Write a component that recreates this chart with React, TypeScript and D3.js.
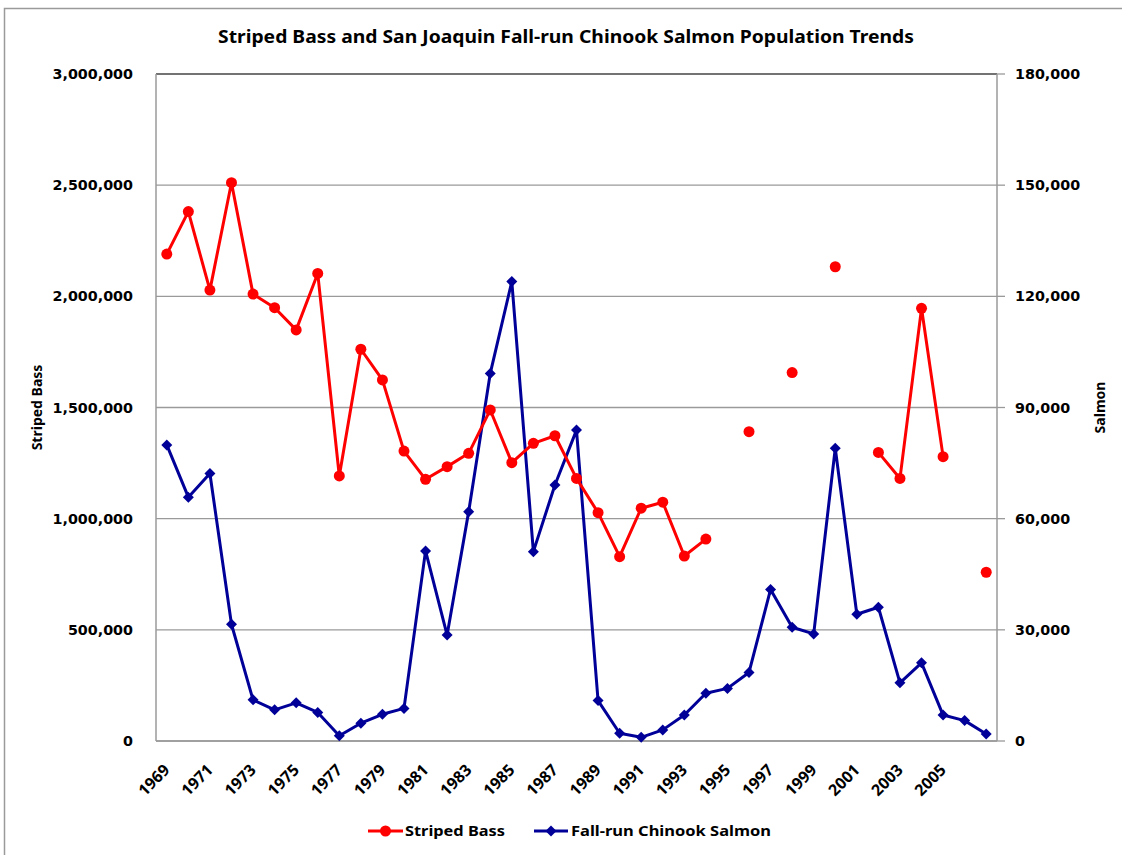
import React from "react";
import * as d3 from "d3";

const years = [
  "1969","1970","1971","1972","1973","1974","1975","1976","1977","1978",
  "1979","1980","1981","1982","1983","1984","1985","1986","1987","1988",
  "1989","1990","1991","1992","1993","1994","1995","1996","1997","1998",
  "1999","2000","2001","2002","2003","2004","2005","2006","2007",
];

const stripedBass: (number | null)[] = [
  2190000, 2381000, 2028000, 2511000, 2010000, 1949000, 1849000, 2103000, 1192000, 1762000,
  1624000, 1304000, 1177000, 1234000, 1294000, 1489000, 1252000, 1339000, 1373000, 1181000,
  1027000, 829000, 1047000, 1074000, 832000, 908000, null, 1391000, null, 1657000,
  null, 2133000, null, 1298000, 1181000, 1946000, 1279000, null, 759000,
];

const salmon: number[] = [
  79900, 65800, 72200, 31500, 11100, 8400, 10300, 7700, 1400, 4800,
  7200, 8800, 51300, 28600, 61900, 99200, 124000, 51100, 69100, 83900,
  10900, 2100, 1000, 3000, 7000, 12900, 14200, 18500, 40900, 30700,
  28900, 79000, 34200, 36100, 15700, 21100, 7000, 5500, 1900,
];

const xTickLabels = [
  "1969","1971","1973","1975","1977","1979","1981","1983","1985","1987",
  "1989","1991","1993","1995","1997","1999","2001","2003","2005",
];

const leftTicks = [0, 500000, 1000000, 1500000, 2000000, 2500000, 3000000];
const rightTicks = [0, 30000, 60000, 90000, 120000, 150000, 180000];

const title = "Striped Bass and San Joaquin Fall-run Chinook Salmon Population Trends";
const leftTitle = "Striped Bass";
const rightTitle = "Salmon";
const legendBass = "Striped Bass";
const legendSalmon = "Fall-run Chinook Salmon";

const RED = "#FF0000";
const BLUE = "#000099";
const LABEL_FONT = "'DejaVu Sans', Verdana, sans-serif";
const NARROW_FONT = "'Noto Sans', 'Open Sans', sans-serif";

export default function App() {
  const W = 1122, H = 855;
  const left = 156, right = 997, top = 74, bottom = 741;

  const x = d3.scaleBand<string>().domain(years).range([left, right]).padding(0);
  const cx = (y: string) => (x(y) as number) + x.bandwidth() / 2;
  const yL = d3.scaleLinear().domain([0, 3000000]).range([bottom, top]);
  const yR = d3.scaleLinear().domain([0, 180000]).range([bottom, top]);
  const fmt = d3.format(",");

  const bassLine = d3
    .line<number | null>()
    .defined((d) => d !== null)
    .x((_, i) => cx(years[i]))
    .y((d) => yL(d as number));
  const salmonLine = d3
    .line<number>()
    .x((_, i) => cx(years[i]))
    .y((d) => yR(d));

  const diamond = (px: number, py: number, r: number) =>
    `M${px},${py - r}L${px + r},${py}L${px},${py + r}L${px - r},${py}Z`;

  return (
    <svg width={W} height={H} style={{ position: "absolute", left: 0, top: 0 }}>
      <rect x={0} y={0} width={W} height={H} fill="#fff" />
      <rect x={4.5} y={8.5} width={W + 10} height={H + 10} fill="#fff" stroke="#9a9a9a" strokeWidth={1.5} />

      <text x={566} y={43} textAnchor="middle" fontFamily={NARROW_FONT} fontWeight={700} fontSize={18.5}
        textLength={696} lengthAdjust="spacingAndGlyphs" fill="#000">{title}</text>

      {/* gridlines */}
      {leftTicks.map((t) => (
        <line key={"g" + t} x1={left} x2={right} y1={yL(t)} y2={yL(t)}
          stroke={t === 3000000 ? "#444" : "#9a9a9a"} strokeWidth={1.3} />
      ))}
      {/* axes */}
      <line x1={left} x2={left} y1={top} y2={bottom} stroke="#9a9a9a" strokeWidth={1.5} />
      <line x1={right} x2={right} y1={top} y2={bottom} stroke="#9a9a9a" strokeWidth={1.5} />
      <line x1={left} x2={right} y1={bottom} y2={bottom} stroke="#9a9a9a" strokeWidth={1.5} />
      {rightTicks.map((t) => (
        <line key={"rt" + t} x1={right} x2={right + 8} y1={yR(t)} y2={yR(t)} stroke="#9a9a9a" strokeWidth={1.3} />
      ))}

      {/* left tick labels */}
      {leftTicks.map((t) => (
        <text key={"lt" + t} x={133} y={yL(t) + 5} textAnchor="end" fontFamily={LABEL_FONT}
          fontWeight={700} fontSize={14.3} fill="#000">{fmt(t)}</text>
      ))}
      {/* right tick labels */}
      {rightTicks.map((t) => (
        <text key={"rl" + t} x={1015} y={yR(t) + 5} textAnchor="start" fontFamily={LABEL_FONT}
          fontWeight={700} fontSize={14.3} fill="#000">{fmt(t)}</text>
      ))}

      {/* x labels */}
      {xTickLabels.map((l) => {
        const px = cx(l) + 4;
        const py = 771;
        return (
          <text key={"x" + l} x={px} y={py} textAnchor="end" fontFamily={NARROW_FONT} fontWeight={700}
            fontSize={16} fill="#000" transform={`rotate(-45 ${px} ${py})`}>{l}</text>
        );
      })}

      {/* axis titles */}
      <text x={0} y={0} transform={`translate(42 ${(top + bottom) / 2}) rotate(-90)`} textAnchor="middle"
        fontFamily={NARROW_FONT} fontWeight={700} fontSize={14} fill="#000">{leftTitle}</text>
      <text x={0} y={0} transform={`translate(1105 ${(top + bottom) / 2}) rotate(-90)`} textAnchor="middle"
        fontFamily={NARROW_FONT} fontWeight={700} fontSize={14} fill="#000">{rightTitle}</text>

      {/* salmon series */}
      <path d={salmonLine(salmon) || ""} fill="none" stroke={BLUE} strokeWidth={3} strokeLinejoin="round" />
      {salmon.map((v, i) => (
        <path key={"sm" + i} d={diamond(cx(years[i]), yR(v), 5.5)} fill={BLUE} />
      ))}

      {/* striped bass series */}
      <path d={bassLine(stripedBass) || ""} fill="none" stroke={RED} strokeWidth={3} strokeLinejoin="round" />
      {stripedBass.map((v, i) =>
        v === null ? null : <circle key={"bm" + i} cx={cx(years[i])} cy={yL(v)} r={5.5} fill={RED} />
      )}

      {/* legend */}
      <line x1={368} x2={403} y1={831} y2={831} stroke={RED} strokeWidth={3} />
      <circle cx={385.5} cy={831} r={5.5} fill={RED} />
      <text x={405} y={836} fontFamily={NARROW_FONT} fontWeight={700} fontSize={14} fill="#000"
        textLength={100} lengthAdjust="spacingAndGlyphs">{legendBass}</text>
      <line x1={534} x2={568} y1={831} y2={831} stroke={BLUE} strokeWidth={3} />
      <path d={diamond(551, 831, 5.5)} fill={BLUE} />
      <text x={571} y={836} fontFamily={NARROW_FONT} fontWeight={700} fontSize={14} fill="#000"
        textLength={200} lengthAdjust="spacingAndGlyphs">{legendSalmon}</text>
    </svg>
  );
}
